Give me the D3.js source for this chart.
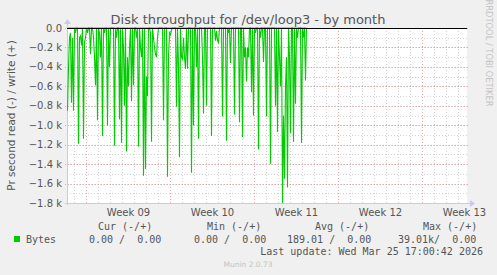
<!DOCTYPE html>
<html><head><meta charset="utf-8">
<script src="https://cdn.jsdelivr.net/npm/d3@7"></script>
<style>
html,body{margin:0;padding:0;background:#f0f0f0;}
svg{display:block;}
text{font-family:"DejaVu Sans",sans-serif;}
.mono{font-family:"DejaVu Sans Mono",monospace;white-space:pre;}
</style></head><body>
<svg id="c" width="497" height="275"></svg>
<script>
// ---- data ----
const title = "Disk throughput for /dev/loop3 - by month";
const yLabel = "Pr second read (-) / write (+)";
const lastUpdate = new Date(2026, 2, 25, 17, 0, 42);
const stepHours = 2;                 // one sample per 2 hours
const spanHours = 800;               // graph span
// read bytes/s, one value per 2-hour sample from the left edge
const readBytes = [
 850,400,100,50,770,100,850,0,50,0, 0,1190,100,80,180,0,1140,150,100,0,
 50,0,0,270,0,0,100,300,590,0, 950,0,50,300,0,1110,0,50,0,0,
 1000,0,400,0,0,0,0,1210,0,100, 0,0,940,0,1180,0,200,800,0,1270,
 300,600,200,0,750,0,590,0,0,100, 0,1220,0,200,300,0,1520,0,1450,500,
 700,0,0,50,1170,0,100,200,270,300, 100,0,0,0,0,0,950,0,0,0,
 1530,300,50,70,20,0,0,0,0,810, 0,400,1330,0,300,320,100,300,420,0,
 420,0,0,0,1490,0,1000,0,0,400, 0,1140,0,0,0,300,880,0,0,800,
 0,0,0,0,1110,0,0,0,130,30, 130,150,0,0,0,910,0,0,0,1160,
 0,50,0,360,0,0,0,890,0,0, 0,0,970,0,0,1120,0,300,200,550,
 200,300,0,0,660,0,900,0,50,0, 0,1250,0,100,0,0,350,0,0,910,
 0,0,0,1400,0,0,0,0,800,0, 1070,0,300,600,0,1800,900,1550,600,300,
 1640,0,300,1080,0,0,1170,0,780,0, 100,0,0,0,1180,0,100,0,540,0
];
const writeBytes = readBytes.map(() => 0);
const yTicks = [0,-200,-400,-600,-800,-1000,-1200,-1400,-1600,-1800];
const legendHeads = ["Cur (-/+)","Min (-/+)","Avg (-/+)","Max (-/+)"];
const legendVals = ["0.00 /  0.00","0.00 /  0.00","189.01 /  0.00","39.01k/  0.00"];
const seriesName = "Bytes";

// ---- layout ----
const svg = d3.select("#c");
const L = 67, R = 467, T = 28, B = 203;
const end = lastUpdate;
const start = new Date(end.getTime() - spanHours*3600e3);
const x = d3.scaleTime().domain([start, end]).range([L, R]);
const y = d3.scaleLinear().domain([-1800, 0]).range([B, T]);

svg.append("rect").attr("x",L).attr("y",T).attr("width",R-L).attr("height",B-T).attr("fill","#fff");

// minor grid
const days = d3.timeDay.range(start, end);
svg.append("g").selectAll("line").data(days).join("line")
  .attr("x1",d=>Math.round(x(d))+0.5).attr("x2",d=>Math.round(x(d))+0.5)
  .attr("y1",T).attr("y2",B).attr("stroke","#d4d4d4").attr("stroke-dasharray","1,2");
const minorY = d3.range(-1800, 0, 100);
svg.append("g").selectAll("line").data(minorY).join("line")
  .attr("x1",L).attr("x2",R+2).attr("y1",d=>Math.round(y(d))+0.5).attr("y2",d=>Math.round(y(d))+0.5)
  .attr("stroke","#d4d4d4").attr("stroke-dasharray","1,2");
// major grid
const weeks = d3.timeSunday.range(start, end);
svg.append("g").selectAll("line").data(weeks).join("line")
  .attr("x1",d=>Math.round(x(d))+0.5).attr("x2",d=>Math.round(x(d))+0.5)
  .attr("y1",T).attr("y2",B+2).attr("stroke","#e8a8a8").attr("stroke-dasharray","1,2");
svg.append("g").selectAll("line").data(yTicks).join("line")
  .attr("x1",L-2).attr("x2",R+2).attr("y1",d=>Math.round(y(d))+0.5).attr("y2",d=>Math.round(y(d))+0.5)
  .attr("stroke","#e8a8a8").attr("stroke-dasharray","1,2");

// y tick labels
svg.append("g").selectAll("text").data(yTicks).join("text")
  .attr("x",62).attr("y",d=>y(d)+3.5).attr("text-anchor","end")
  .attr("font-size","10px").attr("fill","#555")
  .text(d=> d===0 ? "0.0" : d3.format(".1f")(d/1000)+" k");

// x labels
const wfmt = d3.timeFormat("%V");
svg.append("g").selectAll("text").data(weeks).join("text")
  .attr("x",d=>x(d3.timeHour.offset(d,84))).attr("y",216).attr("text-anchor","middle")
  .attr("font-size","10px").attr("fill","#555")
  .text(d=>"Week "+wfmt(d3.timeHour.offset(d,84)));

// axes
svg.append("line").attr("x1",L+0.5).attr("x2",L+0.5).attr("y1",T-4).attr("y2",B+2).attr("stroke","#c8c8f0");
svg.append("path").attr("d",`M${L-3},${T-4}L${L+0.5},${T-9}L${L+4},${T-4}Z`).attr("fill","#c8c8f0");
svg.append("line").attr("x1",L-2).attr("x2",R+3).attr("y1",B+0.5).attr("y2",B+0.5).attr("stroke","#c8c8f0");
svg.append("path").attr("d",`M${R+3},${B-3}L${R+8},${B+0.5}L${R+3},${B+4}Z`).attr("fill","#c8c8f0");

// data line
const tAt = i => d3.timeHour.offset(start, i*stepHours);
const line = d3.line().x((d,i)=>x(tAt(i))+0.5).y(d=>y(-d));
svg.append("path").datum(readBytes).attr("d",line).attr("fill","none")
  .attr("stroke","#00cc00").attr("stroke-width",1.1);
svg.append("path").datum(writeBytes).attr("d",line).attr("fill","none")
  .attr("stroke","#00cc00").attr("stroke-width",1);
// zero rule
svg.append("line").attr("x1",L).attr("x2",R).attr("y1",y(0)+0.5).attr("y2",y(0)+0.5)
  .attr("stroke","#000").attr("stroke-width",1);

// title
svg.append("text").attr("x",248).attr("y",24).attr("text-anchor","middle")
  .attr("font-size","13px").attr("fill","#555").text(title);
// y label
svg.append("text").attr("transform",`translate(15,${(T+B)/2}) rotate(-90)`)
  .attr("text-anchor","middle").attr("font-size","10.5px").attr("fill","#555").text(yLabel);
// rrdtool credit
svg.append("text").attr("transform","translate(486,53) rotate(90)")
  .attr("text-anchor","middle").attr("font-size","8.3px").attr("fill","#c4c4c4").text("RRDTOOL / TOBI OETIKER");

// legend
const headX = [98,207,315,423];
const valX = [89,194,287,398];
svg.append("g").selectAll("text").data(legendHeads).join("text").attr("class","mono")
  .attr("x",(d,i)=>headX[i]).attr("y",230).attr("font-size","10px").attr("fill","#555").text(d=>d);
svg.append("g").selectAll("text").data(legendVals).join("text").attr("class","mono")
  .attr("x",(d,i)=>valX[i]).attr("y",243).attr("font-size","10px").attr("fill","#555").text(d=>d);
svg.append("rect").attr("x",14).attr("y",236).attr("width",6).attr("height",6).attr("fill","#00cc00");
svg.append("text").attr("class","mono").attr("x",26).attr("y",243).attr("font-size","10px").attr("fill","#555").text(seriesName);
svg.append("text").attr("class","mono").attr("x",483).attr("y",255).attr("text-anchor","end")
  .attr("font-size","10px").attr("fill","#555").text("Last update: " + d3.timeFormat("%a %b %d %H:%M:%S %Y")(lastUpdate));
svg.append("text").attr("x",248).attr("y",267).attr("text-anchor","middle")
  .attr("font-size","7.5px").attr("fill","#c4c4c4").text("Munin 2.0.73");
</script></body></html>
